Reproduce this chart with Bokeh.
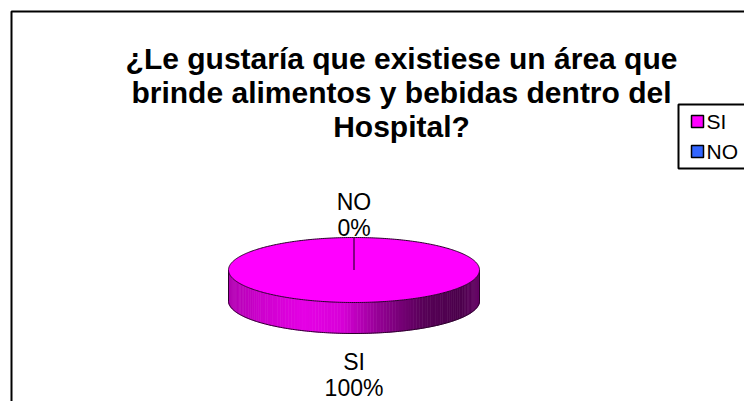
import numpy as np
from bokeh.plotting import figure
from bokeh.models import Range1d
from bokeh.core.properties import value
from bokeh.embed import file_html
from bokeh.resources import INLINE

# ---- data ----
title_lines = ["¿Le gustaría que existiese un área que",
               "brinde alimentos y bebidas dentro del",
               "Hospital?"]
categories = ["SI", "NO"]
percent = [100, 0]
colors = ["#FF00FF", "#3366FF"]

FONT = value("Liberation Sans")
W, H = 744, 401
p = figure(width=W, height=H, x_range=Range1d(0, W), y_range=Range1d(H, 0),
           output_backend="svg", toolbar_location=None, min_border=0,
           x_axis_type=None, y_axis_type=None)
p.grid.visible = False
p.outline_line_color = None
p.background_fill_color = "white"
p.border_fill_color = "white"

# chart border (extends past the window on right and bottom)
p.line(x=[11, 11, 800], y=[450, 11, 11], line_color="black", line_width=2)

# ---- title ----
p.text(x=[401] * 3, y=[58, 92, 126], text=title_lines, text_align="center",
       text_baseline="alphabetic", text_font=FONT, text_font_size="30px",
       text_font_style="bold", text_color="black")

# ---- 3D pie ----
cx, cy, a, b, depth = 353.5, 269.5, 125.5, 32.5, 31.0
frac = np.array(percent, dtype=float) / float(sum(percent))
bounds = -np.pi / 2 + 2 * np.pi * np.concatenate([[0.0], np.cumsum(frac)])


def shade(u):
    pts_u = [0.0, 0.12, 0.3, 0.45, 0.6, 0.78, 0.92, 1.0]
    pts_f = [0.7, 0.8, 0.9, 0.85, 0.58, 0.34, 0.3, 0.4]
    return float(np.interp(u, pts_u, pts_f))


def scale_color(hexc, f):
    r, g, bb = int(hexc[1:3], 16), int(hexc[3:5], 16), int(hexc[5:7], 16)
    return "#%02x%02x%02x" % (int(r * f), int(g * f), int(bb * f))


# side walls (front half only: t in [0, pi])
xs, ys, cols = [], [], []
for i, c in enumerate(colors):
    t0, t1 = bounds[i], bounds[i + 1]
    if t1 - t0 <= 0:
        continue
    for k in range(-1, 2):
        lo = max(t0, 0.0 + 2 * np.pi * k)
        hi = min(t1, np.pi + 2 * np.pi * k)
        if hi <= lo:
            continue
        n = 120
        ts = np.linspace(lo, hi, n + 1)
        for j in range(n):
            ta, tb = ts[j], ts[j + 1]
            xa, xb = cx + a * np.cos(ta), cx + a * np.cos(tb)
            ya, yb = cy + b * np.sin(ta), cy + b * np.sin(tb)
            xs.append([xa, xb, xb, xa])
            ys.append([ya, yb, yb + depth, ya + depth])
            u = ((xa + xb) / 2 - (cx - a)) / (2 * a)
            cols.append(scale_color(c, shade(u)))
p.patches(xs=xs, ys=ys, fill_color=cols, line_color=cols, line_width=0.6)

# side outline
tf = np.linspace(0, np.pi, 200)
p.line(x=list(cx + a * np.cos(tf)), y=list(cy + b * np.sin(tf) + depth),
       line_color="#2a002a", line_width=1)
p.line(x=[cx - a, cx - a], y=[cy, cy + depth], line_color="#2a002a", line_width=1)
p.line(x=[cx + a, cx + a], y=[cy, cy + depth], line_color="#2a002a", line_width=1)

# top faces
for i, c in enumerate(colors):
    t0, t1 = bounds[i], bounds[i + 1]
    if t1 - t0 <= 0:
        continue
    ts = np.linspace(t0, t1, 300)
    px = [cx] + list(cx + a * np.cos(ts))
    py = [cy] + list(cy + b * np.sin(ts))
    p.patch(x=px, y=py, fill_color=c, line_color=None)

ta = np.linspace(0, 2 * np.pi, 400)
p.line(x=list(cx + a * np.cos(ta)), y=list(cy + b * np.sin(ta)),
       line_color="#2a002a", line_width=1)
for t in np.unique(np.round(bounds[:-1], 6)):
    p.line(x=[cx, cx + a * np.cos(t)], y=[cy, cy + b * np.sin(t)],
           line_color="#5a005a", line_width=1)

# data labels
LS = 26
lx, ly, lt = [], [], []
for i, cat in enumerate(categories):
    tm = (bounds[i] + bounds[i + 1]) / 2
    x = cx + a * np.cos(tm)
    s = np.sin(tm)
    lines = [cat, "%d%%" % percent[i]]
    if s < 0:
        base = cy + b * s - 10 - LS
    else:
        base = cy + b * s + depth + 28
    for j, ln in enumerate(lines):
        lx.append(x)
        ly.append(base + LS * j)
        lt.append(ln)
p.text(x=lx, y=ly, text=lt, text_align="center", text_baseline="alphabetic",
       text_font=FONT, text_font_size="23px", text_color="black")

# ---- legend ----
p.quad(left=[678], right=[800], top=[104], bottom=[168], fill_color="white",
       line_color="black", line_width=2)
ky = [121 + 30 * i for i in range(len(categories))]
p.scatter(x=[697] * len(categories), y=ky, marker="square", size=12,
          fill_color=colors, line_color="black", line_width=1.5)
p.text(x=[706] * len(categories), y=ky, text=categories, text_align="left",
       text_baseline="middle", text_font=FONT, text_font_size="21px",
       text_color="black")

open("out.html", "w").write(file_html(p, INLINE))
